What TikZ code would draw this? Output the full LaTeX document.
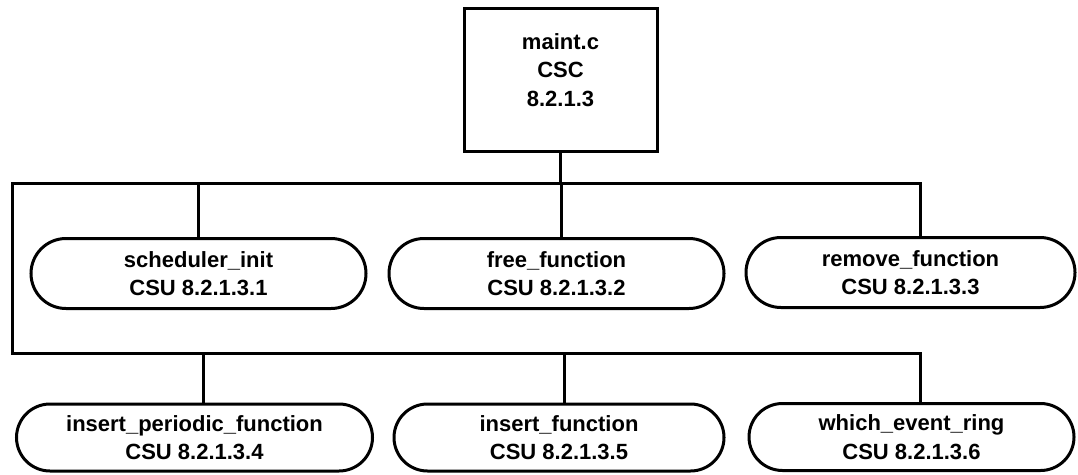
\documentclass[tikz,border=0pt]{standalone}
\usepackage{fontspec}
\setmainfont{Liberation Sans}
\usetikzlibrary{shapes.misc}
\begin{document}
\begin{tikzpicture}[x=1pt,y=-1pt,
  every node/.style={font=\bfseries\fontsize{22}{28.5}\selectfont, align=center, line width=3pt},
  csc/.style={draw, rectangle, minimum width=193pt, minimum height=143pt, inner sep=0pt},
  csu/.style={draw, rounded rectangle, minimum height=70pt, inner sep=0pt},
  conn/.style={line width=3pt}]
\useasboundingbox (0,0) rectangle (1078,474);
\node[csc] (main) at (560.5,79.5) {maint.c\\CSC\\8.2.1.3\\[-9pt]};
\node[csu, minimum width=335pt] (s1) at (198.5,273.5) {scheduler\_init\\CSU 8.2.1.3.1};
\node[csu, minimum width=335pt] (s2) at (556.5,273.5) {free\_function\\CSU 8.2.1.3.2};
\node[csu, minimum width=329pt] (s3) at (910.5,272.5) {remove\_function\\CSU 8.2.1.3.3};
\node[csu, minimum width=356pt, minimum height=67pt] (s4) at (194.5,437.5) {insert\_periodic\_function\\CSU 8.2.1.3.4};
\node[csu, minimum width=330pt, minimum height=67pt] (s5) at (559,437.5) {insert\_function\\CSU 8.2.1.3.5};
\node[csu, minimum width=325pt, minimum height=67pt] (s6) at (911.5,437) {which\_event\_ring\\CSU 8.2.1.3.6};
\coordinate (bUL) at (12,183);
\coordinate (bUR) at (920,183);
\coordinate (bLL) at (12,353);
\coordinate (bLR) at (920,353);
\draw[conn] (main.south) -- (main.south |- bUL);
\draw[conn] (bUR |- s3.north) -- (bUR) -- (bUL) -- (bLL) -- (bLR) -- (bLR |- s6.north);
\draw[conn] (s1.north) -- (s1.north |- bUL);
\draw[conn] ([xshift=4.5pt]s2.north) -- ([xshift=4.5pt]s2.north |- bUL);
\draw[conn] ([xshift=8.5pt]s4.north) -- ([xshift=8.5pt]s4.north |- bLL);
\draw[conn] ([xshift=5pt]s5.north) -- ([xshift=5pt]s5.north |- bLL);
\end{tikzpicture}
\end{document}
